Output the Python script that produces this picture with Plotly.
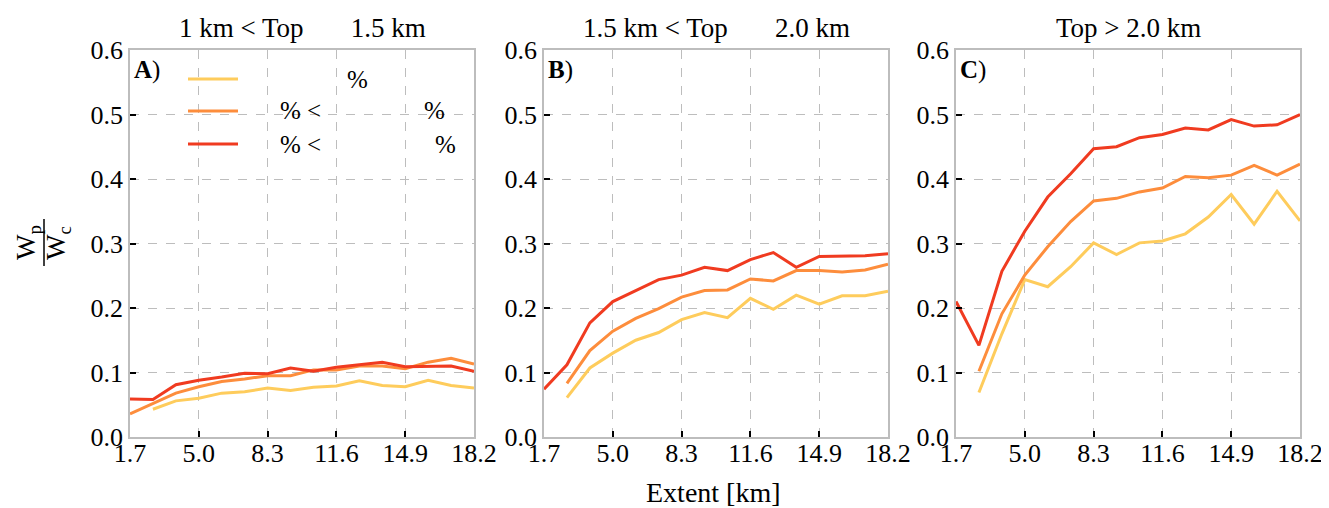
import plotly.graph_objects as go

extent = [1.7, 2.8, 3.9, 5.0, 6.1, 7.2, 8.3, 9.4, 10.5, 11.6, 12.7, 13.8, 14.9, 16.0, 17.1, 18.2]
x_ticks = [1.7, 5.0, 8.3, 11.6, 14.9, 18.2]
y_ticks = [0.0, 0.1, 0.2, 0.3, 0.4, 0.5, 0.6]
panel_titles = ["1 km &lt; Top \u00a0\u00a0\u00a0\u00a0\u00a0 1.5 km",
                "1.5 km &lt; Top \u00a0\u00a0\u00a0\u00a0\u00a0 2.0 km",
                "Top &gt; 2.0 km"]
panel_letters = ["A", "B", "C"]

# Panel A
a_low = [None, 0.043, 0.056, 0.060, 0.068, 0.070, 0.076, 0.072, 0.077, 0.079, 0.087, 0.080, 0.078, 0.088, 0.080, 0.076]
a_mid = [0.036, 0.052, 0.068, 0.078, 0.086, 0.090, 0.095, 0.095, 0.104, 0.104, 0.110, 0.110, 0.106, 0.116, 0.122, 0.113]
a_high = [0.059, 0.058, 0.081, 0.088, 0.093, 0.099, 0.098, 0.107, 0.102, 0.108, 0.112, 0.116, 0.109, 0.110, 0.110, 0.102]
# Panel B
b_low = [None, 0.061, 0.107, 0.130, 0.150, 0.162, 0.182, 0.193, 0.185, 0.215, 0.198, 0.220, 0.206, 0.219, 0.219, 0.226]
b_mid = [None, 0.083, 0.134, 0.164, 0.184, 0.199, 0.217, 0.227, 0.228, 0.245, 0.242, 0.258, 0.258, 0.256, 0.259, 0.268]
b_high = [0.074, 0.112, 0.177, 0.210, 0.227, 0.244, 0.251, 0.263, 0.258, 0.275, 0.286, 0.263, 0.280, 0.280, 0.281, 0.284]
# Panel C
c_low = [None, 0.069, 0.160, 0.244, 0.233, 0.264, 0.301, 0.283, 0.301, 0.304, 0.315, 0.341, 0.376, 0.330, 0.381, 0.335]
c_mid = [None, 0.102, 0.191, 0.251, 0.295, 0.334, 0.366, 0.370, 0.380, 0.386, 0.404, 0.402, 0.406, 0.421, 0.406, 0.423]
c_high = [0.210, 0.142, 0.257, 0.319, 0.372, 0.408, 0.447, 0.450, 0.464, 0.469, 0.479, 0.476, 0.492, 0.482, 0.484, 0.500]

panels = [(a_low, a_mid, a_high), (b_low, b_mid, b_high), (c_low, c_mid, c_high)]
colors = ["#fecc5c", "#fd8d3c", "#f03b20"]

# page body has an 8px margin; the figure is sized so it fills the window
OFF = 8
W, H = 1329 - OFF, 508 - OFF
def px(x):
    return (x - OFF) / W
def py(y):
    return 1 - (y - OFF) / H

FONT = "Liberation Serif"
x_dom = [(130, 474), (544, 888), (956, 1300)]
y_dom = [py(437), py(50)]
LW = 3

fig = go.Figure()
annotations = []
shapes = []

def ann(x, y, text, size=24, xanchor="center", angle=0):
    annotations.append(dict(x=px(x), y=py(y), xref="paper", yref="paper",
                            xanchor=xanchor, yanchor="middle", textangle=angle,
                            text=text, showarrow=False,
                            font=dict(family=FONT, size=size, color="black")))

for i, series in enumerate(panels):
    xa = "x" if i == 0 else f"x{i+1}"
    ya = "y" if i == 0 else f"y{i+1}"
    for s, c in zip(series, colors):
        fig.add_trace(go.Scatter(x=extent, y=s, mode="lines", xaxis=xa, yaxis=ya,
                                 line=dict(color=c, width=LW), connectgaps=False,
                                 showlegend=False, hoverinfo="skip"))
    axis_common = dict(showline=True, mirror=True, linecolor="#bdbdbd", linewidth=1.5,
                       ticks="inside", ticklen=6, tickwidth=1.5, tickcolor="black",
                       showgrid=True, gridcolor="#bdbdbd", griddash="dash", gridwidth=1,
                       zeroline=False, automargin=False,
                       tickfont=dict(family=FONT, size=26, color="black"))
    xkey = "xaxis" if i == 0 else f"xaxis{i+1}"
    ykey = "yaxis" if i == 0 else f"yaxis{i+1}"
    fig.update_layout(**{
        xkey: dict(domain=[px(x_dom[i][0]), px(x_dom[i][1])], range=[1.7, 18.2],
                   tickvals=x_ticks, ticktext=[f"{v:.1f}" for v in x_ticks],
                   anchor=ya, ticklabelstandoff=-8, **axis_common),
        ykey: dict(domain=y_dom, range=[0, 0.6], tickvals=y_ticks,
                   ticktext=[f"{v:.1f}" for v in y_ticks], anchor=xa, **axis_common),
    })
    cx = (x_dom[i][0] + x_dom[i][1]) / 2
    ann(cx, 28, panel_titles[i], size=27)
    ann(x_dom[i][0] + 2, 70, f"<b>{panel_letters[i]}</b>)", size=25, xanchor="left")

# Legend (panel A)
leg_rows = [79, 111, 144]
leg_texts = [[(345, "%")], [(278, "% &lt;"), (422, "%")], [(278, "% &lt;"), (433, "%")]]
for yy, c, items in zip(leg_rows, colors, leg_texts):
    shapes.append(dict(type="line", xref="paper", yref="paper",
                       x0=px(188), x1=px(238), y0=py(yy), y1=py(yy),
                       line=dict(color=c, width=LW)))
    for xx, t in items:
        ann(xx, yy, t, size=25, xanchor="left")

# Y label as fraction W_p / W_c
ann(28, 243, "W<sub>p</sub>", size=27, angle=-90)
ann(58, 243, "W<sub>c</sub>", size=27, angle=-90)
shapes.append(dict(type="line", xref="paper", yref="paper", x0=px(44), x1=px(44),
                   y0=py(219), y1=py(266), line=dict(color="black", width=1.5)))

ann(713, 492, "Extent [km]", size=28)

fig.update_layout(template="none", width=W, height=H, margin=dict(l=0, r=0, t=0, b=0),
                  plot_bgcolor="white", paper_bgcolor="white",
                  annotations=annotations, shapes=shapes, showlegend=False)

fig.write_html("out.html")
